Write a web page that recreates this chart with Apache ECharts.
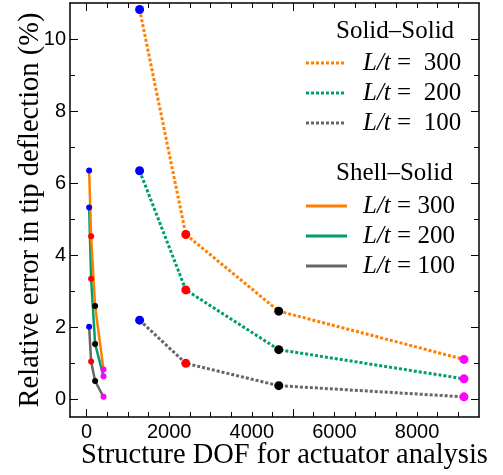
<!DOCTYPE html>
<html>
<head>
  <meta charset="utf-8">
  <title>Tip deflection error</title>
  <script src="https://cdn.jsdelivr.net/npm/echarts@6/dist/echarts.min.js"></script>
</head>
<body style="margin:0">
  <div id="main" style="width:503px;height:475px"></div>
  <script type="text/javascript">
    // values
    var solidDof = [1285, 2403, 4653, 9136];
    var solid300 = [10.82, 4.57, 2.44, 1.10];
    var solid200 = [6.34, 3.03, 1.37, 0.56];
    var solid100 = [2.19, 0.99, 0.37, 0.06];

    var shellDof = [63, 111, 208, 411];
    var shell300 = [6.35, 4.52, 2.58, 0.82];
    var shell200 = [5.32, 3.34, 1.53, 0.63];
    var shell100 = [2.01, 1.04, 0.50, 0.06];

    var markerColors = ['#0000ff', '#ff0000', '#000000', '#ff00ff'];
    var xLabels = [0, 2000, 4000, 6000, 8000];
    var xMajor = [0, 5000];
    var xMinor = [500, 1000, 1500, 2000, 2500, 3000, 3500, 4000, 4500, 5500, 6000, 6500, 7000, 7500, 8000, 8500, 9000];
    var yMajor = [0, 2, 4, 6, 8, 10];
    var yMinor = [1, 3, 5, 7, 9];

    var orange = '#ff7f00', green = '#009e6e', gray = '#666666';
    var serif = 'Liberation Serif';
    var sans = 'Liberation Sans';

    function points(xs, ys) {
      return ys.map(function (y, i) {
        return { value: [xs[i], y], itemStyle: { color: markerColors[i] } };
      });
    }

    function makeSeries(name, xs, ys, color, dotted, size) {
      return {
        name: name,
        type: 'line',
        data: points(xs, ys),
        symbol: 'circle',
        symbolSize: size,
        showAllSymbol: true,
        lineStyle: { color: color, width: dotted ? 3 : 2.5, type: dotted ? [3, 2] : 'solid', cap: 'butt' },
        itemStyle: { color: color },
        animation: false
      };
    }

    function plain(v) { return String(v); }

    function xAxisDef(pos, ticks, len, main) {
      return {
        type: 'value', position: pos, min: -400, max: 9500,
        axisLine: { show: main, onZero: false, lineStyle: { color: '#000', width: 1.5 } },
        axisTick: { show: true, inside: true, length: len, customValues: ticks, lineStyle: { color: '#000', width: 1 } },
        axisLabel: main && pos === 'bottom'
          ? { show: true, customValues: xLabels, formatter: plain, margin: 5, color: '#000', fontSize: 20, fontFamily: sans }
          : { show: false },
        splitLine: { show: false },
        name: main && pos === 'bottom' ? 'Structure DOF for actuator analysis' : '',
        nameLocation: 'middle', nameGap: 24, nameMoveOverlap: false,
        nameTextStyle: { color: '#000', fontSize: 28.5, fontFamily: serif, padding: [0, 0, 0, 20] }
      };
    }

    function yAxisDef(pos, ticks, len, main) {
      return {
        type: 'value', position: pos, min: -0.5, max: 11,
        axisLine: { show: main, onZero: false, lineStyle: { color: '#000', width: 1.5 } },
        axisTick: { show: true, inside: true, length: len, customValues: ticks, lineStyle: { color: '#000', width: 1 } },
        axisLabel: main && pos === 'left'
          ? { show: true, customValues: yMajor, formatter: plain, margin: 4, color: '#000', fontSize: 20, fontFamily: sans }
          : { show: false },
        splitLine: { show: false },
        name: main && pos === 'left' ? 'Relative error in tip deflection (%)' : '',
        nameLocation: 'middle', nameGap: 25, nameMoveOverlap: false,
        nameTextStyle: { color: '#000', fontSize: 28.5, fontFamily: serif }
      };
    }

    function legendLine(y, color, dotted, x2) {
      return {
        type: 'line', z: 100,
        shape: { x1: 306, y1: y, x2: x2, y2: y },
        style: { stroke: color, lineWidth: 3, lineDash: dotted ? [3, 2] : null }
      };
    }

    function legendText(x, y, text) {
      return {
        type: 'text', z: 100, x: x, y: y,
        style: {
          text: text, fill: '#000', fontSize: 25, fontFamily: serif, verticalAlign: 'middle',
          rich: { i: { fontStyle: 'italic', fontSize: 25, fontFamily: serif, fill: '#000' } }
        }
      };
    }

    var myChart = echarts.init(document.getElementById('main'));

    var option = {
      animation: false,
      grid: { left: 70, right: 24, top: 3, bottom: 57 },
      xAxis: [
        xAxisDef('bottom', xMajor, 8, true),
        xAxisDef('bottom', xMinor, 5, false),
        xAxisDef('top', xMajor, 8, true),
        xAxisDef('top', xMinor, 5, false)
      ],
      yAxis: [
        yAxisDef('left', yMajor, 8, true),
        yAxisDef('left', yMinor, 5, false),
        yAxisDef('right', yMajor, 8, true),
        yAxisDef('right', yMinor, 5, false)
      ],
      series: [
        makeSeries('Solid-Solid 300', solidDof, solid300, orange, true, 9),
        makeSeries('Solid-Solid 200', solidDof, solid200, green, true, 9),
        makeSeries('Solid-Solid 100', solidDof, solid100, gray, true, 9),
        makeSeries('Shell-Solid 100', shellDof, shell100, gray, false, 6),
        makeSeries('Shell-Solid 200', shellDof, shell200, green, false, 6),
        makeSeries('Shell-Solid 300', shellDof, shell300, orange, false, 6)
      ],
      graphic: [
        legendText(336, 31, 'Solid–Solid'),
        legendLine(63, orange, true, 344),
        legendLine(93, green, true, 344),
        legendLine(123, gray, true, 344),
        legendText(363, 63, '{i|L/t} =  300'),
        legendText(363, 93, '{i|L/t} =  200'),
        legendText(363, 123, '{i|L/t} =  100'),
        legendText(336, 173, 'Shell–Solid'),
        legendLine(206, orange, false, 347),
        legendLine(236, green, false, 347),
        legendLine(266, gray, false, 347),
        legendText(363, 206, '{i|L/t} = 300'),
        legendText(363, 236, '{i|L/t} = 200'),
        legendText(363, 266, '{i|L/t} = 100')
      ]
    };

    myChart.setOption(option);
  </script>
</body>
</html>
